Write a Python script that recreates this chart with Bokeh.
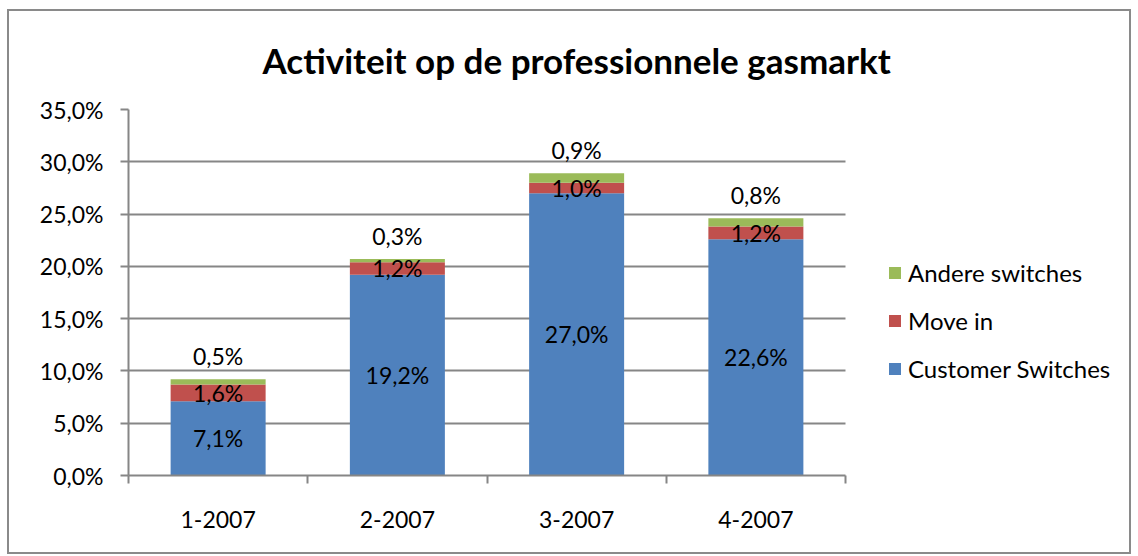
from bokeh.plotting import figure
from bokeh.models import ColumnDataSource, FixedTicker, Legend, LegendItem, Title
from bokeh.core.properties import value
from bokeh.embed import file_html
from bokeh.resources import INLINE

categories = ["1-2007", "2-2007", "3-2007", "4-2007"]
customer_switches = [7.1, 19.2, 27.0, 22.6]
move_in = [1.6, 1.2, 1.0, 1.2]
andere_switches = [0.5, 0.3, 0.9, 0.8]
y_ticks = [0, 5, 10, 15, 20, 25, 30, 35]
y_tick_labels = ["0,0%", "5,0%", "10,0%", "15,0%", "20,0%", "25,0%", "30,0%", "35,0%"]

FONT = "Lato"
BLUE, RED, GREEN = "#4F81BD", "#C0504D", "#9BBB59"
GRID = "#868686"

def pct(v):
    return f"{v:.1f}".replace(".", ",") + "%"

n = len(categories)
xs = [i + 0.5 for i in range(n)]
src = ColumnDataSource(dict(
    x=xs,
    cs=customer_switches,
    mi=move_in,
    an=andere_switches,
    cs_y=[c / 2 for c in customer_switches],
    mi_y=[c + m / 2 for c, m in zip(customer_switches, move_in)],
    an_y=[c + m + a for c, m, a in zip(customer_switches, move_in, andere_switches)],
    cs_t=[pct(v) for v in customer_switches],
    mi_t=[pct(v) for v in move_in],
    an_t=[pct(v) for v in andere_switches],
))

# layout (pixels)
W, H = 1124, 545
LEFT, TOP, BOTTOM, RIGHT = 119, 97, 81, 4
DATA_W = 717                       # pixel width of the category area
frame_w = W - LEFT - RIGHT
x_hi = n * frame_w / DATA_W        # frame extends right to host the legend

p = figure(width=W, height=H, x_range=(0, x_hi), y_range=(0, 35),
           output_backend="svg", toolbar_location=None,
           min_border_left=LEFT, min_border_right=RIGHT,
           min_border_top=TOP, min_border_bottom=BOTTOM)
p.outline_line_color = None
p.background_fill_color = "white"
p.border_fill_color = "white"
p.styles = {"border": "2px solid #8a8a8a", "margin-left": "7px", "margin-top": "9px"}

renderers = p.vbar_stack(["cs", "mi", "an"], x="x", width=0.53, source=src,
                         color=[BLUE, RED, GREEN], line_color=None)

LBL = "23px"
p.text(x="x", y="cs_y", text="cs_t", source=src, text_font=value(FONT),
       text_font_size=LBL, text_align="center", text_baseline="middle",
       text_color="black")
p.text(x="x", y="mi_y", text="mi_t", source=src, text_font=value(FONT),
       text_font_size=LBL, text_align="center", text_baseline="middle",
       text_color="black")
p.text(x="x", y="an_y", text="an_t", source=src, text_font=value(FONT),
       text_font_size=LBL, text_align="center", text_baseline="bottom",
       y_offset=-9, text_color="black")

# y axis
p.yaxis.ticker = FixedTicker(ticks=y_ticks)
p.yaxis.major_label_overrides = {t: l for t, l in zip(y_ticks, y_tick_labels)}
p.yaxis.major_label_text_font = FONT
p.yaxis.major_label_text_font_size = "23px"
p.yaxis.major_label_text_color = "black"
p.yaxis.major_tick_out = 8
p.yaxis.major_tick_in = 0
p.yaxis.minor_tick_line_color = None
p.yaxis.major_label_standoff = 17
p.yaxis.axis_line_color = GRID
p.yaxis.major_tick_line_color = GRID
p.yaxis.axis_line_width = 2
p.yaxis.major_tick_line_width = 2

# x axis
p.xaxis.ticker = FixedTicker(ticks=xs, minor_ticks=list(range(n + 1)))
p.xaxis.bounds = (0, n)
p.xaxis.major_label_overrides = {x: c for x, c in zip(xs, categories)}
p.xaxis.major_label_text_font = FONT
p.xaxis.major_label_text_font_size = "23px"
p.xaxis.major_label_text_color = "black"
p.xaxis.major_tick_line_color = None
p.xaxis.minor_tick_out = 8
p.xaxis.minor_tick_in = 0
p.xaxis.minor_tick_line_color = GRID
p.xaxis.minor_tick_line_width = 2
p.xaxis.major_label_standoff = 27
p.xaxis.axis_line_color = GRID
p.xaxis.axis_line_width = 2

p.xgrid.grid_line_color = None
g = p.ygrid[0]
if "cross_bounds" in g.properties():
    g.cross_bounds = (0, n)
    g.grid_line_color = GRID
    g.grid_line_width = 2
else:
    g.grid_line_color = None
    p.segment(x0=0, x1=n, y0=y_ticks[1:], y1=y_ticks[1:],
              line_color=GRID, line_width=2, level="underlay")

p.title = Title(text="Activiteit op de professionnele gasmarkt", align="left",
                vertical_align="top", offset=134, text_font=FONT,
                text_font_size="35px", text_font_style="bold",
                text_color="black", standoff=54)

legend = Legend(items=[
    LegendItem(label="Andere switches", renderers=[renderers[2]]),
    LegendItem(label="Move in", renderers=[renderers[1]]),
    LegendItem(label="Customer Switches", renderers=[renderers[0]]),
], location=(759, 92))
legend.label_text_font = FONT
legend.label_text_font_size = "24px"
legend.label_text_color = "black"
legend.glyph_width = 15
legend.glyph_height = 15
legend.label_standoff = 6
legend.spacing = 19
legend.padding = 0
legend.margin = 0
legend.border_line_color = None
legend.background_fill_color = None
legend.background_fill_alpha = 0
p.add_layout(legend, "center")

open("out.html", "w").write(file_html(p, INLINE))
